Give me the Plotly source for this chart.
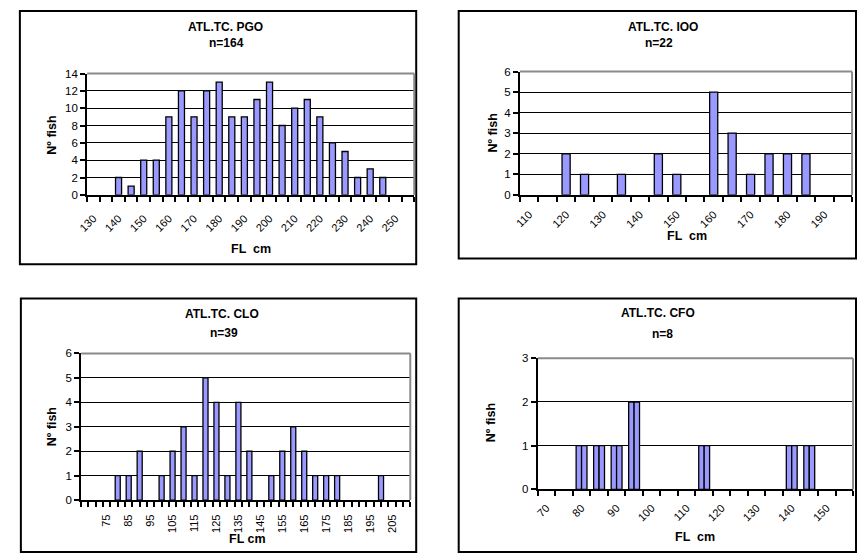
import plotly.graph_objects as go

# ---------------- data ----------------
p1_title = "ATL.TC. PGO"; p1_sub = "n=164"
p1_len = [130, 135, 140, 145, 150, 155, 160, 165, 170, 175, 180, 185, 190,
          195, 200, 205, 210, 215, 220, 225, 230, 235, 240, 245, 250, 255]
p1_n = [0, 0, 2, 1, 4, 4, 9, 12, 9, 12, 13, 9, 9, 11, 13, 8, 10, 11, 9, 6, 5, 2, 3, 2, 0, 0]
p1_ticks = [130, 140, 150, 160, 170, 180, 190, 200, 210, 220, 230, 240, 250]

p2_title = "ATL.TC. IOO"; p2_sub = "n=22"
p2_len = [110, 115, 120, 125, 130, 135, 140, 145, 150, 155, 160, 165, 170, 175, 180, 185, 190, 195]
p2_n = [0, 0, 2, 1, 0, 1, 0, 2, 1, 0, 5, 3, 1, 2, 2, 2, 0, 0]
p2_ticks = [110, 120, 130, 140, 150, 160, 170, 180, 190]

p3_title = "ATL.TC. CLO"; p3_sub = "n=39"
p3_len = [80, 85, 90, 100, 105, 110, 115, 120, 125, 130, 135, 140, 150, 155, 160, 165, 170, 175, 180, 200]
p3_n = [1, 1, 2, 1, 2, 3, 1, 5, 4, 1, 4, 2, 1, 2, 3, 2, 1, 1, 1, 1]
p3_ticks = [75, 85, 95, 105, 115, 125, 135, 145, 155, 165, 175, 185, 195, 205]

p4_title = "ATL.TC. CFO"; p4_sub = "n=8"
p4_len = [70, 75, 80, 85, 90, 95, 100, 105, 110, 115, 120, 125, 130, 135, 140, 145, 150, 155]
p4_n = [0, 0, 1, 1, 1, 2, 0, 0, 0, 1, 0, 0, 0, 0, 1, 1, 0, 0]
p4_ticks = [70, 80, 90, 100, 110, 120, 130, 140, 150]

y_title = "Nº fish"
x_title = ["FL  cm", "FL  cm", "FL cm", "FL  cm"]

# ---------------- layout helpers ----------------
W, H = 857, 559
FONT = "Liberation Sans, Arial, sans-serif"
BAR = "#9999FF"


def fx(px):
    return px / W


def fy(py):
    return 1 - py / H


def nz(vals):
    # empty classes draw no bar
    return [v if v else None for v in vals]


fig = go.Figure()

panels = [
    dict(box=(10, 5, 411, 264), plot=(78, 409, 69, 193), xr=(127.5, 257.5), ymax=14, dy=2,
         m0=127.5, md=5, ang=-45, so=11, tpos=(218, 21), spos=(219, 38), ypos=(43, 132), xpos=(244, 248),
         ticks=p1_ticks),
    dict(box=(454, 5, 856, 258), plot=(516, 852, 67, 193), xr=(107.5, 197.5), ymax=6, dy=1,
         m0=107.5, md=5, ang=-45, so=7, tpos=(661, 21), spos=(657, 38), ypos=(489, 130), xpos=(685, 235),
         ticks=p2_ticks),
    dict(box=(11, 299, 411, 558), plot=(72, 405, 355, 505), xr=(63.3333, 213.3333), ymax=6, dy=1,
         m0=63.3333, md=10 / 3, ang=-90, so=8, tpos=(214, 315), spos=(217, 334), ypos=(42, 430), xpos=(240, 545),
         ticks=p3_ticks),
    dict(box=(454, 299, 856, 558), plot=(534, 853, 360, 494), xr=(67.5, 157.5), ymax=3, dy=1,
         m0=67.5, md=5, ang=-45, so=6, tpos=(656, 314), spos=(660, 335), ypos=(487, 426), xpos=(693, 543),
         ticks=p4_ticks),
]
titles = [(p1_title, p1_sub), (p2_title, p2_sub), (p3_title, p3_sub), (p4_title, p4_sub)]

line_style = dict(color="black", width=1.3)

fig.add_trace(go.Bar(x=p1_len, y=nz(p1_n), width=2.4, marker=dict(color=BAR, line=line_style),
                     xaxis="x", yaxis="y", showlegend=False))
fig.add_trace(go.Bar(x=p2_len, y=nz(p2_n), width=2.2, marker=dict(color=BAR, line=line_style),
                     xaxis="x2", yaxis="y2", showlegend=False))
fig.add_trace(go.Bar(x=p3_len, y=nz(p3_n), width=2.3, marker=dict(color=BAR, line=line_style),
                     xaxis="x3", yaxis="y3", showlegend=False))
fig.add_trace(go.Bar(x=p4_len, y=nz(p4_n), width=1.55, offset=-1.55, marker=dict(color=BAR, line=line_style),
                     xaxis="x4", yaxis="y4", showlegend=False))
fig.add_trace(go.Bar(x=p4_len, y=nz(p4_n), width=1.55, offset=0.0, marker=dict(color=BAR, line=line_style),
                     xaxis="x4", yaxis="y4", showlegend=False))

shapes = []
annotations = []
for i, p in enumerate(panels):
    k = "" if i == 0 else str(i + 1)
    x0, x1, yt, yb = p["plot"]
    n_minor = int(round((p["xr"][1] - p["xr"][0]) / p["md"]))
    minor_vals = [p["m0"] + j * p["md"] for j in range(n_minor + 1)]
    fig.layout["xaxis" + k] = dict(
        domain=[fx(x0), fx(x1)], anchor="y" + k, range=list(p["xr"]),
        tickmode="array", tickvals=p["ticks"], ticktext=[str(t) for t in p["ticks"]],
        ticks="", tickangle=p["ang"], ticklabelstandoff=p["so"],
        tickfont=dict(family=FONT, size=11, color="black"),
        showgrid=False, zeroline=False, showline=True, linecolor="black", linewidth=2,
        minor=dict(tickmode="array", tickvals=minor_vals, ticks="outside", ticklen=5,
                   tickwidth=1.5, tickcolor="black", showgrid=False),
        fixedrange=True,
    )
    fig.layout["yaxis" + k] = dict(
        domain=[fy(yb), fy(yt)], anchor="x" + k, range=[0, p["ymax"]],
        tickmode="linear", tick0=0, dtick=p["dy"], ticks="outside", ticklen=5,
        tickwidth=1.5, tickcolor="black",
        tickfont=dict(family=FONT, size=11.5, color="black"),
        showgrid=True, gridcolor="black", gridwidth=1.3,
        zeroline=False, showline=True, linecolor="black", linewidth=2, fixedrange=True,
    )
    bx0, by0, bx1, by1 = p["box"]
    shapes.append(dict(type="rect", xref="paper", yref="paper", x0=fx(bx0), x1=fx(bx1),
                       y0=fy(by1), y1=fy(by0), line=dict(color="black", width=2)))
    shapes.append(dict(type="line", xref="x" + k + " domain", yref="y" + k + " domain",
                       x0=0, x1=1, y0=1, y1=1, line=dict(color="#8a8a8a", width=2)))
    shapes.append(dict(type="line", xref="x" + k + " domain", yref="y" + k + " domain",
                       x0=1, x1=1, y0=0, y1=1, line=dict(color="#8a8a8a", width=2)))
    t, s = titles[i]
    annotations.append(dict(text="<b>%s</b>" % t, x=fx(p["tpos"][0]), y=fy(p["tpos"][1]),
                            xref="paper", yref="paper", showarrow=False, xanchor="center", yanchor="middle",
                            font=dict(family=FONT, size=12, color="black")))
    annotations.append(dict(text="<b>%s</b>" % s, x=fx(p["spos"][0]), y=fy(p["spos"][1]),
                            xref="paper", yref="paper", showarrow=False, xanchor="center", yanchor="middle",
                            font=dict(family=FONT, size=12, color="black")))
    annotations.append(dict(text="<b>%s</b>" % y_title, x=fx(p["ypos"][0]), y=fy(p["ypos"][1]),
                            xref="paper", yref="paper", showarrow=False, xanchor="center", yanchor="middle",
                            textangle=-90, font=dict(family=FONT, size=12.5, color="black")))
    annotations.append(dict(text="<b>%s</b>" % x_title[i], x=fx(p["xpos"][0]), y=fy(p["xpos"][1]),
                            xref="paper", yref="paper", showarrow=False, xanchor="center", yanchor="middle",
                            font=dict(family=FONT, size=12.5, color="black")))

fig.update_layout(
    width=W, height=H, margin=dict(l=0, r=0, t=0, b=0),
    paper_bgcolor="white", plot_bgcolor="white",
    barmode="overlay", showlegend=False,
    shapes=shapes, annotations=annotations,
    font=dict(family=FONT, color="black"),
)

fig.write_html("out.html")
